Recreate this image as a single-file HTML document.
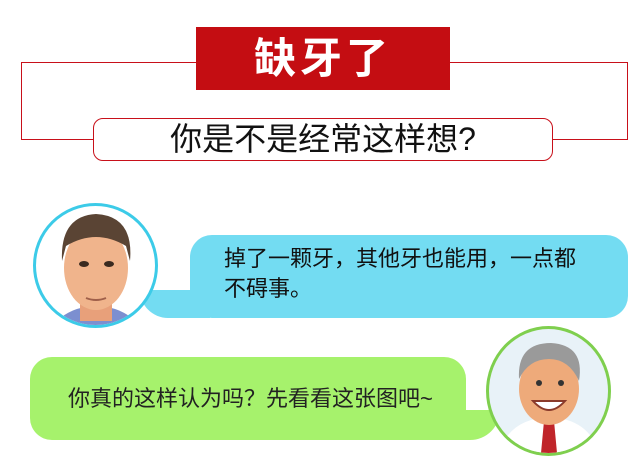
<!DOCTYPE html>
<html><head><meta charset="utf-8"><style>
body{margin:0;width:640px;height:460px;background:#fff;position:relative;overflow:hidden;font-family:"Liberation Sans","Noto Sans CJK SC",sans-serif}
div{position:absolute;box-sizing:border-box}
</style></head><body>
<div style="left:21px;top:62px;width:607px;height:78px;border:1px solid #c8101a"></div>
<div style="left:196px;top:27px;width:254px;height:63px;background:#c40d12;color:#fff;font-size:42px;font-weight:bold;text-align:center;line-height:63px;letter-spacing:4px">缺牙了</div>
<div style="left:93px;top:118px;width:460px;height:43px;border:1px solid #c8101a;border-radius:10px;background:#fff;text-align:center;font-size:32px;line-height:41px;color:#111">你是不是经常这样想?</div>
<div style="left:190px;top:235px;width:438px;height:83px;background:#73dcf2;border-radius:22px;padding:9px 0 0 34px;font-size:22px;line-height:30px;color:#111;white-space:nowrap">掉了一颗牙，其他牙也能用，一点都<br>不碍事。</div>
<div style="left:140px;top:290px;width:70px;height:28px;background:#73dcf2;border-radius:0 0 0 40px"></div>
<div style="left:33px;top:203px;width:125px;height:125px;border:3px solid #3ccbe8;border-radius:50%;background:#fff;overflow:hidden">
<svg width="119" height="119"><ellipse cx="60" cy="140" rx="50" ry="40" fill="#7c8fd0"/><rect x="44" y="85" width="32" height="30" fill="#e8a07a"/><ellipse cx="60" cy="62" rx="32" ry="42" fill="#f0b48c"/><path d="M26 55 Q24 10 60 8 Q98 10 94 55 L90 40 Q60 22 30 40Z" fill="#5a4434"/><ellipse cx="48" cy="58" rx="5" ry="3" fill="#3a2a20"/><ellipse cx="73" cy="58" rx="5" ry="3" fill="#3a2a20"/><path d="M50 92 Q60 96 70 92" stroke="#a0604a" stroke-width="2" fill="none"/></svg></div>
<div style="left:30px;top:357px;width:436px;height:83px;background:#a6f26c;border-radius:22px;padding:0 0 0 38px;font-size:22px;line-height:83px;color:#222;white-space:nowrap">你真的这样认为吗？先看看这张图吧~</div>
<div style="left:440px;top:410px;width:60px;height:30px;background:#a6f26c;border-radius:0 0 40px 0"></div>
<div style="left:486px;top:326px;width:125px;height:130px;border:3px solid #7fcf4e;border-radius:50%;background:#e8f2f8;overflow:hidden">
<svg width="119" height="124"><path d="M10 124 Q20 90 60 88 Q100 90 110 124Z" fill="#fff"/><path d="M55 92 L65 92 L68 124 L52 124Z" fill="#c0252a"/><ellipse cx="60" cy="60" rx="30" ry="36" fill="#eeaa7a"/><path d="M30 50 Q28 14 62 14 Q96 16 90 52 Q80 30 60 30 Q40 30 30 50Z" fill="#9a9a9a"/><path d="M44 72 Q60 90 76 72Z" fill="#fff" stroke="#8a3a2a" stroke-width="2"/><circle cx="50" cy="54" r="3" fill="#333"/><circle cx="72" cy="54" r="3" fill="#333"/></svg></div>
</body></html>
